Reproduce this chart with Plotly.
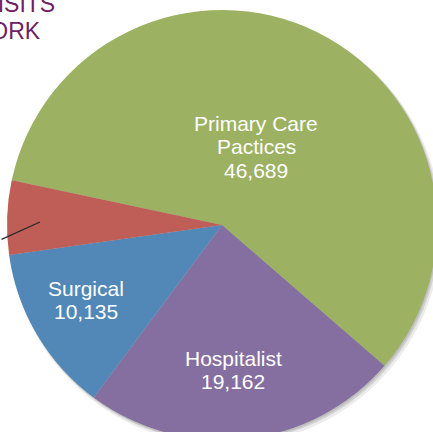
import plotly.graph_objects as go

categories = ["Primary Care Pactices", "Hospitalist", "Surgical", "Other"]
values = [46689, 19162, 10135, 4470]
colors = ["#9cb262", "#856fa0", "#5188b8", "#bf5d57"]
label_lines = [["Primary Care", "Pactices", "46,689"], ["Hospitalist", "19,162"], ["Surgical", "10,135"]]
label_pos = [(256, 123), (233, 358), (86, 288)]  # pixel centers of first line
title_lines = ["PHYSICIAN VISITS", "BY NETWORK"]

W, H = 452, 460


def dom(cx, cy, r):
    return dict(x=[(cx - r) / W, (cx + r) / W], y=[1 - (cy + r) / H, 1 - (cy - r) / H])


fig = go.Figure()
# soft drop shadow
for (cx, cy, r, c) in [(225, 229, 216.5, "#ececec"), (224, 227.5, 215.5, "#d2d2d2"), (223, 226.5, 215, "#bdbdbd")]:
    fig.add_trace(go.Pie(values=[1], sort=False, marker=dict(colors=[c], line=dict(width=0)),
                         textinfo="none", hoverinfo="skip", domain=dom(cx, cy, r), showlegend=False))
fig.add_trace(go.Pie(
    labels=categories, values=values, sort=False, direction="clockwise", rotation=282,
    marker=dict(colors=colors, line=dict(width=0)), textinfo="none", hoverinfo="label+value",
    domain=dom(222, 225, 215), showlegend=False,
))
ann = []
for lines, (px, py) in zip(label_lines, label_pos):
    for i, t in enumerate(lines):
        ann.append(dict(x=px / W, y=1 - (py + 23.5 * i) / H, xref="paper", yref="paper",
                        text=t, showarrow=False, xanchor="center", yanchor="middle",
                        font=dict(family="Liberation Sans, Arial", size=21, color="white")))
for t, (px, py) in zip(title_lines, [(57, 4), (43, 31.5)]):
    ann.append(dict(x=px / W, y=1 - py / H, xref="paper", yref="paper", text=t, showarrow=False,
                    xanchor="right", yanchor="middle",
                    font=dict(family="Liberation Sans, Arial", size=23, color="#6e2163")))
# leader line toward the (cropped) label of the small slice
ann.append(dict(x=40 / W, y=1 - 222 / H, xref="paper", yref="paper", text="", showarrow=True,
                arrowhead=0, arrowwidth=1.3, arrowcolor="#2a2a2a", ax=-50, ay=18))
fig.update_layout(annotations=ann, margin=dict(l=0, r=0, t=0, b=0), width=W, height=H,
                  autosize=False, paper_bgcolor="white", plot_bgcolor="white")
fig.write_html("out.html", config={"displayModeBar": False},
               post_script="document.body.style.margin='0';document.body.style.overflow='hidden';")
